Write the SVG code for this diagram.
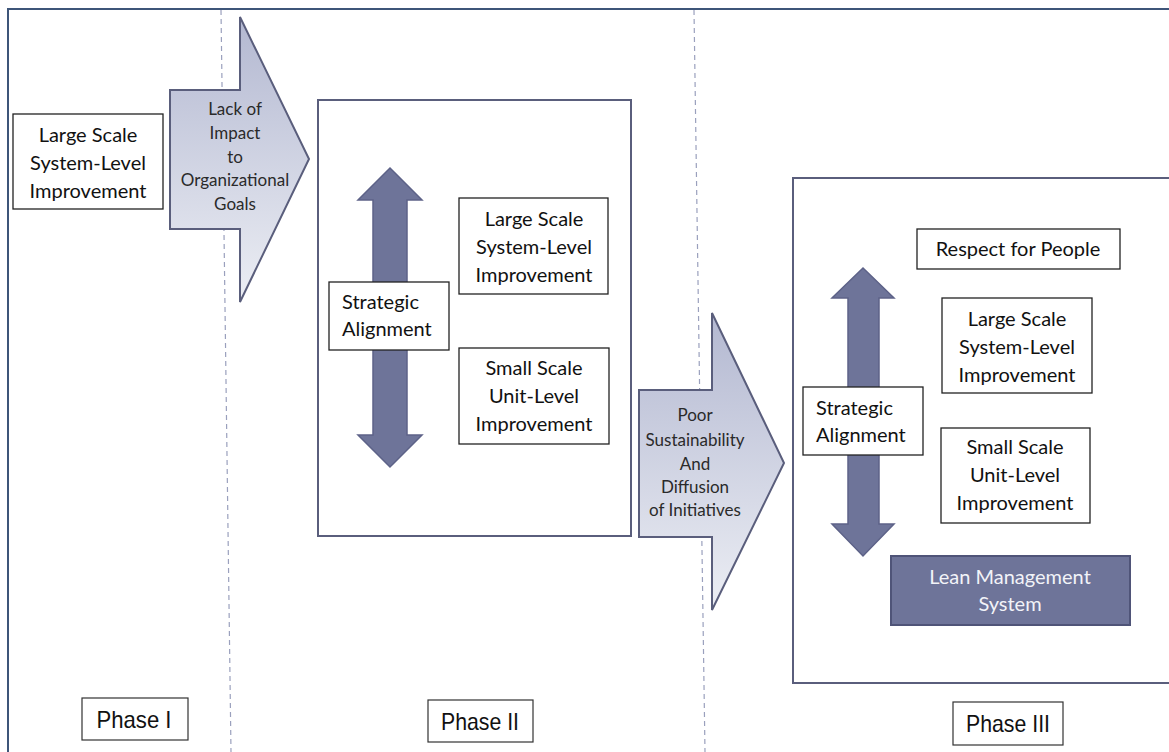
<svg xmlns="http://www.w3.org/2000/svg" width="1169" height="752" viewBox="0 0 1169 752">
  <defs>
    <linearGradient id="flowFill" x1="0" y1="0" x2="0" y2="1">
      <stop offset="0" stop-color="#b3b8d1"/>
      <stop offset="1" stop-color="#eceef4"/>
    </linearGradient>
    <style>
      .box { fill: #ffffff; stroke: #222222; stroke-width: 1.3; }
      .phasebox { fill: #ffffff; stroke: #333333; stroke-width: 1.2; }
      .panel { fill: #ffffff; stroke: #5a5e7c; stroke-width: 2; }
      .flow { fill: url(#flowFill); stroke: #5a5e7c; stroke-width: 2; }
      .dbl { fill: #6e7499; stroke: #5d6288; stroke-width: 1.5; }
      .lean { fill: #6e7499; stroke: #4f5478; stroke-width: 2; }
      .divider { stroke: #9aa0bd; stroke-width: 1.2; stroke-dasharray: 5 4; fill: none; }
      .t { font-family: Lato, "Open Sans", sans-serif; font-size: 20px; fill: #111111; text-anchor: middle; }
      .tl { font-family: Lato, "Open Sans", sans-serif; font-size: 20px; fill: #111111; }
      .ts { font-family: Lato, "Open Sans", sans-serif; font-size: 17px; fill: #2a2a2a; text-anchor: middle; }
      .tw { font-family: Lato, "Open Sans", sans-serif; font-size: 20px; fill: #f2f3f8; text-anchor: middle; }
      .tp { font-family: "Liberation Sans", Arial, sans-serif; font-size: 24px; fill: #111111; text-anchor: middle; }
    </style>
  </defs>

  <!-- outer frame -->
  <path d="M8,752 L8,9 L1169,9" fill="none" stroke="#3e5579" stroke-width="2"/>

  <!-- phase dividers -->
  <g id="dividers">
    <line class="divider" x1="221" y1="10" x2="231" y2="752"/>
    <line class="divider" x1="694" y1="10" x2="705" y2="752"/>
  </g>

  <!-- Phase I -->
  <g id="p1-large">
    <rect class="box" x="13" y="114" width="150" height="95"/>
    <text class="t" x="88" y="142">Large Scale</text>
    <text class="t" x="88" y="170">System-Level</text>
    <text class="t" x="88" y="198">Improvement</text>
  </g>

  <!-- transition arrows -->
  <g id="connectors">
    <g id="flow-1">
      <path class="flow" d="M170,90 L240,90 L240,17 L309,159 L240,302 L240,229 L170,229 Z"/>
      <text class="ts" x="235" y="115">Lack of</text>
      <text class="ts" x="235" y="139">Impact</text>
      <text class="ts" x="235" y="163">to</text>
      <text class="ts" x="235" y="186">Organizational</text>
      <text class="ts" x="235" y="210">Goals</text>
    </g>
    <g id="flow-2">
      <path class="flow" d="M639,390 L712,390 L712,313 L784,463 L712,610 L712,537 L639,537 Z"/>
      <text class="ts" x="695" y="421">Poor</text>
      <text class="ts" x="695" y="446">Sustainability</text>
      <text class="ts" x="695" y="470">And</text>
      <text class="ts" x="695" y="493">Diffusion</text>
      <text class="ts" x="695" y="516">of Initiatives</text>
    </g>
  </g>

  <!-- Phase II -->
  <g id="p2-panel">
    <rect class="panel" x="318" y="100" width="313" height="436"/>
  </g>
  <g id="p2-alignment-arrow">
    <path class="dbl" d="M390,168 L422,200 L407,200 L407,435 L422,435 L390,467 L358,435 L373,435 L373,200 L358,200 Z"/>
  </g>
  <g id="p2-alignment">
    <rect class="box" x="329" y="282" width="120" height="68"/>
    <text class="tl" x="342" y="309">Strategic</text>
    <text class="tl" x="342" y="336">Alignment</text>
  </g>
  <g id="p2-large">
    <rect class="box" x="459" y="198" width="149" height="96"/>
    <text class="t" x="534" y="226">Large Scale</text>
    <text class="t" x="534" y="254">System-Level</text>
    <text class="t" x="534" y="282">Improvement</text>
  </g>
  <g id="p2-small">
    <rect class="box" x="459" y="348" width="150" height="96"/>
    <text class="t" x="534" y="375">Small Scale</text>
    <text class="t" x="534" y="403">Unit-Level</text>
    <text class="t" x="534" y="431">Improvement</text>
  </g>

  <!-- Phase III -->
  <g id="p3-panel">
    <rect class="panel" x="793" y="178" width="390" height="505"/>
  </g>
  <g id="p3-respect">
    <rect class="box" x="917" y="229" width="203" height="40"/>
    <text class="t" x="1018" y="256">Respect for People</text>
  </g>
  <g id="p3-alignment-arrow">
    <path class="dbl" d="M863,268 L894,298 L879,298 L879,524 L894,524 L863,556 L832,524 L848,524 L848,298 L832,298 Z"/>
  </g>
  <g id="p3-alignment">
    <rect class="box" x="803" y="387" width="120" height="68"/>
    <text class="tl" x="816" y="415">Strategic</text>
    <text class="tl" x="816" y="442">Alignment</text>
  </g>
  <g id="p3-large">
    <rect class="box" x="942" y="298" width="150" height="95"/>
    <text class="t" x="1017" y="326">Large Scale</text>
    <text class="t" x="1017" y="354">System-Level</text>
    <text class="t" x="1017" y="382">Improvement</text>
  </g>
  <g id="p3-small">
    <rect class="box" x="941" y="428" width="149" height="95"/>
    <text class="t" x="1015" y="454">Small Scale</text>
    <text class="t" x="1015" y="482">Unit-Level</text>
    <text class="t" x="1015" y="510">Improvement</text>
  </g>
  <g id="p3-lean">
    <rect class="lean" x="891" y="556" width="239" height="69"/>
    <text class="tw" x="1010" y="584">Lean Management</text>
    <text class="tw" x="1010" y="611">System</text>
  </g>

  <!-- phase labels (condensed via textLength) -->
  <g id="phase-1">
    <rect class="phasebox" x="82" y="698" width="106" height="42"/>
    <text class="tp" x="134" y="728" textLength="75" lengthAdjust="spacingAndGlyphs">Phase I</text>
  </g>
  <g id="phase-2">
    <rect class="phasebox" x="428" y="700" width="105" height="42"/>
    <text class="tp" x="480" y="730" textLength="78" lengthAdjust="spacingAndGlyphs">Phase II</text>
  </g>
  <g id="phase-3">
    <rect class="phasebox" x="953" y="702" width="110" height="43"/>
    <text class="tp" x="1008" y="732" textLength="84" lengthAdjust="spacingAndGlyphs">Phase III</text>
  </g>
</svg>
